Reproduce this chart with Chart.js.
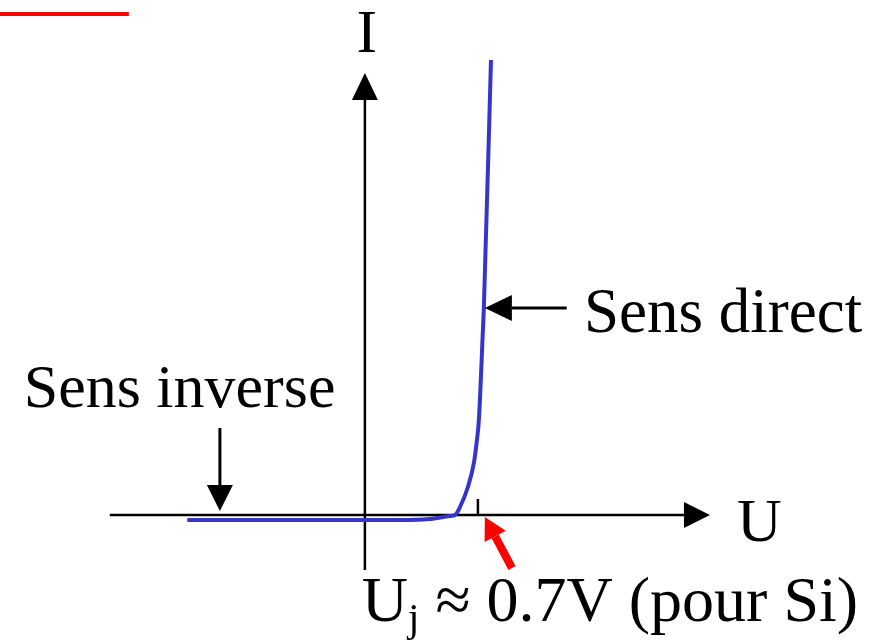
<!DOCTYPE html>
<html lang="fr">
<head>
    <meta charset="UTF-8">
    <title>Caractéristique de la diode</title>
    <script src="https://cdn.jsdelivr.net/npm/chart.js"></script>
    <style>
        body { margin: 0; background: #fff; }
        .chart_div { width: 888px; height: 643px; }
    </style>
</head>
<body>
    <div class="chart_div">
        <canvas id="chart1"></canvas>
    </div>

    <script>
        // diode curve, U in volts, I in arbitrary units
        const uValues = [-1.10, 0, 0.22, 0.40, 0.527, 0.558, 0.589, 0.638, 0.675, 0.694, 0.706, 0.731, 0.737, 0.781];
        const iValues = [-0.5, -0.5, -0.5, -0.4, -0.1, 0, 0.8, 2.8, 5.2, 7.5, 9.5, 18.5, 20.8, 45.5];

        const uRange = [-2.26, 3.24];
        const iRange = [-12.8, 51.5];
        const thresholdU = 0.7;

        const serif = '"Liberation Serif", "Times New Roman", serif';

        function arrow(ctx, x1, y1, x2, y2, color, lw, headLen, headHalf) {
            const a = Math.atan2(y2 - y1, x2 - x1);
            const bx = x2 - headLen * Math.cos(a);
            const by = y2 - headLen * Math.sin(a);
            ctx.strokeStyle = color;
            ctx.fillStyle = color;
            ctx.lineWidth = lw;
            ctx.beginPath();
            ctx.moveTo(x1, y1);
            ctx.lineTo(bx, by);
            ctx.stroke();
            ctx.beginPath();
            ctx.moveTo(x2, y2);
            ctx.lineTo(bx + headHalf * Math.sin(a), by - headHalf * Math.cos(a));
            ctx.lineTo(bx - headHalf * Math.sin(a), by + headHalf * Math.cos(a));
            ctx.closePath();
            ctx.fill();
        }

        const sketchPlugin = {
            id: 'sketch',
            beforeDatasetsDraw(chart) {
                const ctx = chart.ctx;
                const X = v => chart.scales.x.getPixelForValue(v);
                const Y = v => chart.scales.y.getPixelForValue(v);
                ctx.save();
                // axes
                arrow(ctx, X(-1.58), Y(0), X(2.137), Y(0), '#000', 2.5, 26, 13);
                arrow(ctx, X(0), Y(-5.5), X(0), Y(44.2), '#000', 2.5, 27, 13);
                // threshold tick
                ctx.beginPath();
                ctx.moveTo(X(thresholdU), Y(0));
                ctx.lineTo(X(thresholdU), Y(1.6));
                ctx.stroke();
                ctx.restore();
            },
            afterDatasetsDraw(chart) {
                const ctx = chart.ctx;
                const X = v => chart.scales.x.getPixelForValue(v);
                const Y = v => chart.scales.y.getPixelForValue(v);
                ctx.save();
                // red bar top left
                ctx.strokeStyle = '#ff0000';
                ctx.lineWidth = 4;
                ctx.beginPath();
                ctx.moveTo(X(-2.26), Y(50.1));
                ctx.lineTo(X(-1.462), Y(50.1));
                ctx.stroke();

                // pointers
                arrow(ctx, X(-0.898), Y(8.7), X(-0.898), Y(0.4), '#000', 3, 26, 13);
                arrow(ctx, X(1.25), Y(20.7), X(0.743), Y(20.7), '#000', 3, 27, 13);
                arrow(ctx, X(0.911), Y(-5.3), X(0.743), Y(-0.2), '#ff0000', 8, 22, 12);

                // labels
                ctx.fillStyle = '#000';
                ctx.textBaseline = 'alphabetic';
                ctx.font = '62px ' + serif;
                ctx.textAlign = 'center';
                ctx.fillText('I', X(0.012), Y(46.3));
                ctx.textAlign = 'left';
                ctx.fillText('U', X(2.305), Y(-2.6));
                ctx.fillText('Sens inverse', X(-2.113), Y(10.8));
                ctx.font = '63px ' + serif;
                ctx.fillText('Sens direct', X(1.357), Y(18.3));

                let x = X(-0.019);
                const base = Y(-10.6);
                ctx.font = '64px ' + serif;
                ctx.fillText('U', x, base);
                x += ctx.measureText('U').width;
                ctx.font = '41px ' + serif;
                ctx.fillText('j', x, base + 10);
                x += ctx.measureText('j').width;
                ctx.font = '64px ' + serif;
                ctx.fillText(' \u2248 0.7V (pour Si)', x, base);
                ctx.restore();
            }
        };

        new Chart(document.getElementById('chart1'), {
            type: 'line',
            data: {
                datasets: [{
                    label: 'I(U)',
                    data: uValues.map((u, k) => ({ x: u, y: iValues[k] })),
                    borderColor: '#3535cc',
                    borderWidth: 4,
                    pointRadius: 0,
                    cubicInterpolationMode: 'monotone',
                    fill: false
                }]
            },
            options: {
                responsive: true,
                maintainAspectRatio: false,
                animation: false,
                layout: { padding: 0 },
                plugins: {
                    legend: { display: false },
                    tooltip: { enabled: false }
                },
                scales: {
                    x: { type: 'linear', display: false, min: uRange[0], max: uRange[1] },
                    y: { type: 'linear', display: false, min: iRange[0], max: iRange[1] }
                }
            },
            plugins: [sketchPlugin]
        });
    </script>
</body>
</html>
